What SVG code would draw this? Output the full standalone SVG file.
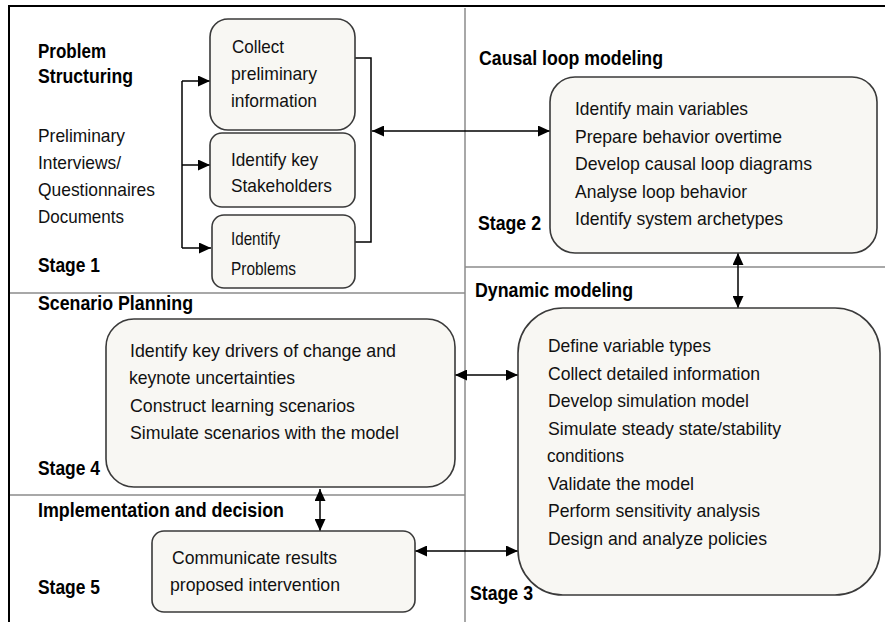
<svg xmlns="http://www.w3.org/2000/svg" width="885" height="622" viewBox="0 0 885 622">
<style>
.bg{fill:#ffffff}
.frame{stroke:#000;stroke-width:2;fill:none}
.div{stroke:#8c8c8c;stroke-width:1.5;fill:none}
.box{fill:#f8f7f3;stroke:#3a3a3a;stroke-width:1.6}
.t{font-family:"Liberation Sans",Arial,sans-serif;font-size:18.5px;fill:#111}
.h{font-family:"Liberation Sans",Arial,sans-serif;font-size:20px;font-weight:bold;fill:#000}
.c{stroke:#000;stroke-width:1.5;fill:none}
</style>
<defs>
<marker id="ah" markerUnits="userSpaceOnUse" markerWidth="12" markerHeight="11" refX="12" refY="5.5" orient="auto-start-reverse">
<path d="M0,0 L12,5.5 L0,11 z" fill="#000"/>
</marker>
</defs>
<rect class="bg" x="0" y="0" width="885" height="622"/>
<g id="frame">
<path class="frame" d="M9,6 H885 M9,5 V622"/>
<path class="div" d="M465,8 V622 M10,293 H465 M465,267 H885 M10,495 H465"/>
</g>
<g id="section-labels">
<text class="h" x="38" y="58" textLength="68" lengthAdjust="spacingAndGlyphs">Problem</text>
<text class="h" x="38" y="83" textLength="95" lengthAdjust="spacingAndGlyphs">Structuring</text>
<text class="t" x="38" y="142" textLength="87" lengthAdjust="spacingAndGlyphs">Preliminary</text>
<text class="t" x="38" y="169" textLength="83" lengthAdjust="spacingAndGlyphs">Interviews/</text>
<text class="t" x="38" y="196" textLength="117" lengthAdjust="spacingAndGlyphs">Questionnaires</text>
<text class="t" x="38" y="223" textLength="86" lengthAdjust="spacingAndGlyphs">Documents</text>
<text class="h" x="38" y="272" textLength="62" lengthAdjust="spacingAndGlyphs">Stage 1</text>
<text class="h" x="479" y="65" textLength="184" lengthAdjust="spacingAndGlyphs">Causal loop modeling</text>
<text class="h" x="478" y="230" textLength="63" lengthAdjust="spacingAndGlyphs">Stage 2</text>
<text class="h" x="475" y="297" textLength="158" lengthAdjust="spacingAndGlyphs">Dynamic modeling</text>
<text class="h" x="470" y="600" textLength="63" lengthAdjust="spacingAndGlyphs">Stage 3</text>
<text class="h" x="38" y="310" textLength="155" lengthAdjust="spacingAndGlyphs">Scenario Planning</text>
<text class="h" x="38" y="475" textLength="62" lengthAdjust="spacingAndGlyphs">Stage 4</text>
<text class="h" x="38" y="517" textLength="246" lengthAdjust="spacingAndGlyphs">Implementation and decision</text>
<text class="h" x="38" y="594" textLength="62" lengthAdjust="spacingAndGlyphs">Stage 5</text>
</g>
<g id="connectors">
<path class="c" d="M182,81 V248"/>
<path class="c" d="M182,81 H210" marker-end="url(#ah)"/>
<path class="c" d="M182,165 H210" marker-end="url(#ah)"/>
<path class="c" d="M182,248 H211" marker-end="url(#ah)"/>
<path class="c" d="M355,58 H371 V242 H355"/>
<path class="c" d="M372,131 H550" marker-start="url(#ah)" marker-end="url(#ah)"/>
<path class="c" d="M738,253 V308" marker-start="url(#ah)" marker-end="url(#ah)"/>
<path class="c" d="M455,375 H518" marker-start="url(#ah)" marker-end="url(#ah)"/>
<path class="c" d="M415,551 H518" marker-start="url(#ah)" marker-end="url(#ah)"/>
<path class="c" d="M320,489 V531" marker-start="url(#ah)" marker-end="url(#ah)"/>
</g>
<g id="collect">
<rect class="box" x="210" y="19" width="145" height="111" rx="18"/>
<text class="t" x="232" y="53" textLength="52" lengthAdjust="spacingAndGlyphs">Collect</text>
<text class="t" x="231" y="80" textLength="86" lengthAdjust="spacingAndGlyphs">preliminary</text>
<text class="t" x="231" y="107" textLength="86" lengthAdjust="spacingAndGlyphs">information</text>
</g>
<g id="stakeholders">
<rect class="box" x="210" y="133" width="145" height="74" rx="12"/>
<text class="t" x="231" y="166" textLength="87" lengthAdjust="spacingAndGlyphs">Identify key</text>
<text class="t" x="231" y="192" textLength="101" lengthAdjust="spacingAndGlyphs">Stakeholders</text>
</g>
<g id="problems">
<rect class="box" x="212" y="215" width="143" height="73" rx="12"/>
<text class="t" x="231" y="245" textLength="49" lengthAdjust="spacingAndGlyphs">Identify</text>
<text class="t" x="231" y="275" textLength="65" lengthAdjust="spacingAndGlyphs">Problems</text>
</g>
<g id="stage2">
<rect class="box" x="550" y="77" width="327" height="176" rx="25"/>
<text class="t" x="575" y="115" textLength="173" lengthAdjust="spacingAndGlyphs">Identify main variables</text>
<text class="t" x="575" y="142.5" textLength="207" lengthAdjust="spacingAndGlyphs">Prepare behavior overtime</text>
<text class="t" x="575" y="170" textLength="237" lengthAdjust="spacingAndGlyphs">Develop causal loop diagrams</text>
<text class="t" x="575" y="197.5" textLength="172" lengthAdjust="spacingAndGlyphs">Analyse loop behavior</text>
<text class="t" x="575" y="225" textLength="208" lengthAdjust="spacingAndGlyphs">Identify system archetypes</text>
</g>
<g id="stage3">
<rect class="box" x="518" y="308" width="362" height="287" rx="45"/>
<text class="t" x="548" y="352" textLength="163" lengthAdjust="spacingAndGlyphs">Define variable types</text>
<text class="t" x="548" y="380" textLength="212" lengthAdjust="spacingAndGlyphs">Collect detailed information</text>
<text class="t" x="548" y="407" textLength="201" lengthAdjust="spacingAndGlyphs">Develop simulation model</text>
<text class="t" x="548" y="435" textLength="233" lengthAdjust="spacingAndGlyphs">Simulate steady state/stability</text>
<text class="t" x="547" y="462" textLength="77" lengthAdjust="spacingAndGlyphs">conditions</text>
<text class="t" x="548" y="490" textLength="146" lengthAdjust="spacingAndGlyphs">Validate the model</text>
<text class="t" x="548" y="517" textLength="212" lengthAdjust="spacingAndGlyphs">Perform sensitivity analysis</text>
<text class="t" x="548" y="545" textLength="219" lengthAdjust="spacingAndGlyphs">Design and analyze policies</text>
</g>
<g id="stage4">
<rect class="box" x="106" y="319" width="349" height="168" rx="28"/>
<text class="t" x="130" y="357" textLength="266" lengthAdjust="spacingAndGlyphs">Identify key drivers of change and</text>
<text class="t" x="129" y="384" textLength="166" lengthAdjust="spacingAndGlyphs">keynote uncertainties</text>
<text class="t" x="130" y="412" textLength="225" lengthAdjust="spacingAndGlyphs">Construct learning scenarios</text>
<text class="t" x="130" y="439" textLength="269" lengthAdjust="spacingAndGlyphs">Simulate scenarios with the model</text>
</g>
<g id="stage5">
<rect class="box" x="152" y="531" width="263" height="81" rx="12"/>
<text class="t" x="172" y="564" textLength="165" lengthAdjust="spacingAndGlyphs">Communicate results</text>
<text class="t" x="170" y="591" textLength="170" lengthAdjust="spacingAndGlyphs">proposed intervention</text>
</g>
</svg>
